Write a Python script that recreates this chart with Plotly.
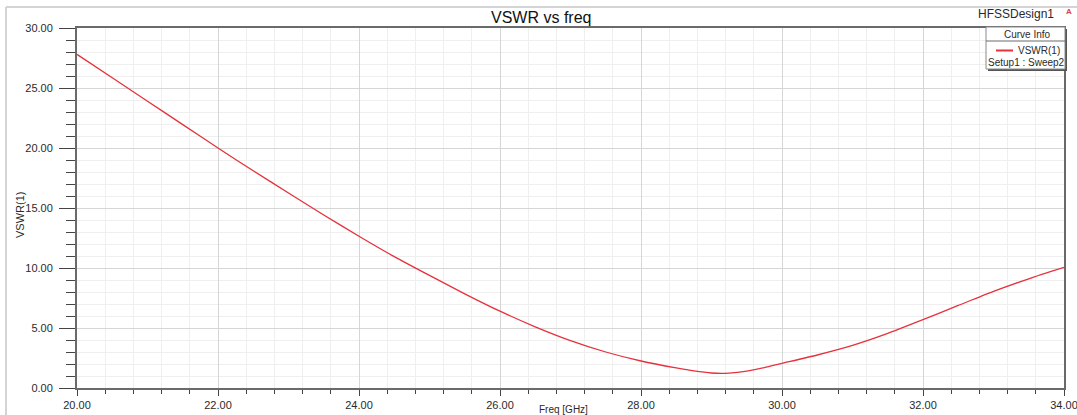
import plotly.graph_objects as go

# Sweep data: frequency (GHz) and VSWR of port 1
freq_ghz = [20.0, 20.5, 21.0, 21.5, 22.0, 22.5, 23.0, 23.5, 24.0, 24.5,
            25.0, 25.5, 26.0, 26.5, 27.0, 27.5, 28.0, 28.5, 28.75, 29.0,
            29.25, 29.5, 29.75, 30.0, 30.5, 31.0, 31.5, 32.0, 32.5, 33.0,
            33.5, 34.0]
vswr = [27.8, 25.85, 23.9, 21.95, 20.0, 18.1, 16.25, 14.42, 12.65, 10.95,
        9.38, 7.85, 6.4, 5.1, 3.95, 3.0, 2.25, 1.67, 1.42, 1.25,
        1.24, 1.4, 1.7, 2.05, 2.75, 3.55, 4.55, 5.7, 6.88, 8.05,
        9.1, 10.05]

trace_name = "VSWR(1)"
sweep_label = "Setup1 : Sweep2"
chart_title = "VSWR vs freq"
design_name = "HFSSDesign1"
x_title = "Freq [GHz]"
y_title = "VSWR(1)"

x_major = [20, 22, 24, 26, 28, 30, 32, 34]
y_major = [0, 5, 10, 15, 20, 25, 30]

W, H = 1077, 415
L, R, T, B = 77, 13, 28, 27
PW, PH = W - L - R, H - T - B

def px(x):
    return (x - L) / PW

def py(y):
    return (H - B - y) / PH

line_red = "#e5323c"
axis_col = "#6a6a6a"
txt_col = "#2a2a2a"
font_fam = "Liberation Sans, Arial, sans-serif"

fig = go.Figure()
fig.add_trace(go.Scatter(
    x=freq_ghz, y=vswr, mode="lines", name=trace_name,
    line=dict(color=line_red, width=1.3, shape="spline", smoothing=0.6),
    showlegend=False, hoverinfo="x+y",
))

fig.update_xaxes(
    range=[20, 34], tickvals=x_major, ticktext=[f"{v:.2f}" for v in x_major],
    automargin=False, ticklabeloverflow="allow",
    showline=True, mirror=True, linecolor=axis_col, linewidth=2,
    showgrid=True, gridcolor="#d6d6d6", gridwidth=1, zeroline=False,
    ticks="outside", ticklen=6, tickcolor="#444", tickwidth=1,
    tickfont=dict(family=font_fam, size=11, color=txt_col),
    minor=dict(dtick=0.4, showgrid=True, gridcolor="#efefef", gridwidth=1,
               ticks="outside", ticklen=4, tickcolor="#444"),
)
fig.update_yaxes(
    range=[0, 30], tickvals=y_major, ticktext=[f"{v:.2f}" for v in y_major],
    automargin=False, ticklabeloverflow="allow",
    showline=True, mirror=True, linecolor=axis_col, linewidth=2,
    showgrid=True, gridcolor="#d6d6d6", gridwidth=1, zeroline=False,
    ticks="outside", ticklen=16, tickcolor="#444", tickwidth=1,
    ticklabelstandoff=4,
    tickfont=dict(family=font_fam, size=11, color=txt_col),
    minor=dict(dtick=1, showgrid=True, gridcolor="#efefef", gridwidth=1,
               ticks="outside", ticklen=9, tickcolor="#444"),
)

shapes = []
annotations = []

# window frame (left and top edge)
shapes.append(dict(type="line", xref="paper", yref="paper",
                   x0=px(6), x1=px(6), y0=py(7), y1=py(H + 5),
                   line=dict(color="#d4d4d4", width=2)))
shapes.append(dict(type="line", xref="paper", yref="paper",
                   x0=px(6), x1=px(W + 5), y0=py(7), y1=py(7),
                   line=dict(color="#d4d4d4", width=2)))

# curve-info box: shadow, body, header divider, legend swatch
shapes.append(dict(type="rect", xref="paper", yref="paper",
                   x0=px(988), x1=px(1067), y0=py(71), y1=py(29),
                   fillcolor="#555555", line=dict(width=0)))
shapes.append(dict(type="rect", xref="paper", yref="paper",
                   x0=px(986), x1=px(1065), y0=py(69), y1=py(27),
                   fillcolor="white", line=dict(color="#8a8a8a", width=1)))
shapes.append(dict(type="line", xref="paper", yref="paper",
                   x0=px(986), x1=px(1065), y0=py(41), y1=py(41),
                   line=dict(color="#6a6a6a", width=1)))
shapes.append(dict(type="line", xref="paper", yref="paper",
                   x0=px(996), x1=px(1013), y0=py(50.5), y1=py(50.5),
                   line=dict(color=line_red, width=2)))

annotations.append(dict(text="Curve Info", xref="paper", yref="paper",
                        x=px(1027), y=py(34.5), showarrow=False,
                        xanchor="center", yanchor="middle",
                        font=dict(family=font_fam, size=10, color=txt_col)))
annotations.append(dict(text=trace_name, xref="paper", yref="paper",
                        x=px(1062), y=py(50), showarrow=False,
                        xanchor="right", yanchor="middle",
                        font=dict(family=font_fam, size=10, color=txt_col)))
annotations.append(dict(text=sweep_label, xref="paper", yref="paper",
                        x=px(1026), y=py(62), showarrow=False,
                        xanchor="center", yanchor="middle",
                        font=dict(family=font_fam, size=10, color=txt_col)))

# titles
annotations.append(dict(text=chart_title, xref="paper", yref="paper",
                        x=px(541), y=py(17), showarrow=False,
                        xanchor="center", yanchor="middle",
                        font=dict(family=font_fam, size=16, color="#111")))
annotations.append(dict(text=design_name, xref="paper", yref="paper",
                        x=px(1056), y=py(14), showarrow=False,
                        xanchor="right", yanchor="middle",
                        font=dict(family=font_fam, size=12, color=txt_col)))
annotations.append(dict(text="<b>A</b>", xref="paper", yref="paper",
                        x=px(1069), y=py(12), showarrow=False,
                        xanchor="center", yanchor="middle",
                        font=dict(family=font_fam, size=8, color="#e0404a")))
annotations.append(dict(text=x_title, xref="paper", yref="paper",
                        x=px(563), y=py(409), showarrow=False,
                        xanchor="center", yanchor="middle",
                        font=dict(family=font_fam, size=10, color=txt_col)))
annotations.append(dict(text=y_title, xref="paper", yref="paper",
                        x=px(20), y=py(215), showarrow=False, textangle=-90,
                        xanchor="center", yanchor="middle",
                        font=dict(family=font_fam, size=11, color=txt_col)))

fig.update_layout(
    width=W, height=H,
    margin=dict(l=L, r=R, t=T, b=B),
    paper_bgcolor="white", plot_bgcolor="white",
    shapes=shapes, annotations=annotations,
    showlegend=False,
)

fig.write_html("out.html")
